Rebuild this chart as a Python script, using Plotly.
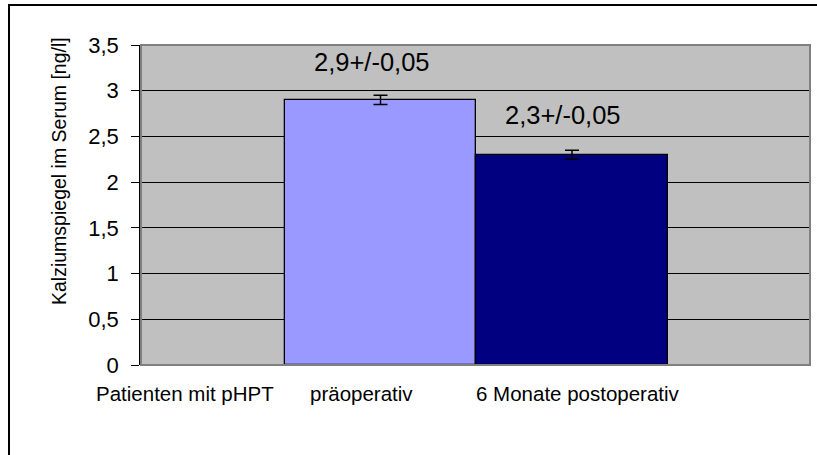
import plotly.graph_objects as go

# Data
series = ["präoperativ", "6 Monate postoperativ"]
values = [2.9, 2.3]
errors = [0.05, 0.05]
value_labels = ["2,9+/-0,05", "2,3+/-0,05"]
category_labels = ["Patienten mit pHPT", "präoperativ", "6 Monate postoperativ"]
y_tickvals = [0, 0.5, 1, 1.5, 2, 2.5, 3, 3.5]
y_ticktext = ["0", "0,5", "1", "1,5", "2", "2,5", "3", "3,5"]
y_title = "Kalziumspiegel im Serum [ng/l]"

colors = ["#9999FF", "#000080"]
FONT = "Liberation Sans, Arial, sans-serif"

W, H = 817, 455
L, R, T, B = 141, 7, 45, 90
pw, ph = W - L - R, H - T - B

fig = go.Figure()
fig.add_trace(go.Bar(
    x=[1, 2], y=values, width=1,
    marker=dict(color=colors, line=dict(color="#000000", width=1.3)),
    error_y=dict(type="data", array=errors, visible=True, color="#000000",
                 thickness=1.5, width=7),
    hoverinfo="skip", showlegend=False,
))

ann = []
# value labels
for i, (v, t) in enumerate(zip(values, value_labels)):
    ann.append(dict(x=i + 1, y=v + 0.41 + 0.02 * i, xref="x", yref="y", text=t,
                    showarrow=False, xshift=-9, font=dict(family=FONT, size=25.5, color="#000")))
# category labels
cat_x = [-0.021, 0.903, 2.031]
for cx, t in zip(cat_x, category_labels):
    ann.append(dict(x=cx, y=-(393 - (H - B)) / ph, xref="x", yref="paper", text=t,
                    showarrow=False, yanchor="middle",
                    font=dict(family=FONT, size=20.5, color="#000")))
# y title
ann.append(dict(x=(46 - L) / pw, y=((H - B) - 171) / ph, xref="paper", yref="paper",
                text=y_title, textangle=-90, showarrow=False,
                font=dict(family=FONT, size=19.5, color="#000")))

shapes = [
    # plot area border (gray)
    dict(type="rect", xref="paper", yref="paper", x0=0, y0=0, x1=1, y1=1,
         line=dict(color="#808080", width=2), layer="above"),
    # outer frame (top and left)
    dict(type="path", xref="paper", yref="paper",
         path=f"M {(9 - L) / pw} {-(H - (H - B)) / ph} L {(9 - L) / pw} {((H - B) - 5) / ph} L {(W - L) / pw + 0.01} {((H - B) - 5) / ph}",
         line=dict(color="#000000", width=2)),
]

fig.update_layout(
    width=W, height=H,
    margin=dict(l=L, r=R, t=T, b=B),
    paper_bgcolor="#FFFFFF", plot_bgcolor="#C0C0C0",
    font=dict(family=FONT, size=20, color="#000"),
    xaxis=dict(range=[-0.2507, 3.2428], showticklabels=False, ticks="",
               showgrid=False, zeroline=False, showline=False, fixedrange=True),
    yaxis=dict(range=[0, 3.5], tickvals=y_tickvals, ticktext=y_ticktext,
               ticks="outside", ticklen=8, tickcolor="#000", tickwidth=1,
               ticklabelstandoff=8,
               showgrid=True, gridcolor="#000000", gridwidth=1,
               zeroline=False, showline=True, linecolor="#000000", linewidth=1.5,
               tickfont=dict(family=FONT, size=22, color="#000"), fixedrange=True),
    annotations=ann, shapes=shapes, bargap=0,
)

fig.write_html("out.html", config={"displayModeBar": False},
               post_script="document.body.style.margin='0';document.body.style.overflow='hidden';")
